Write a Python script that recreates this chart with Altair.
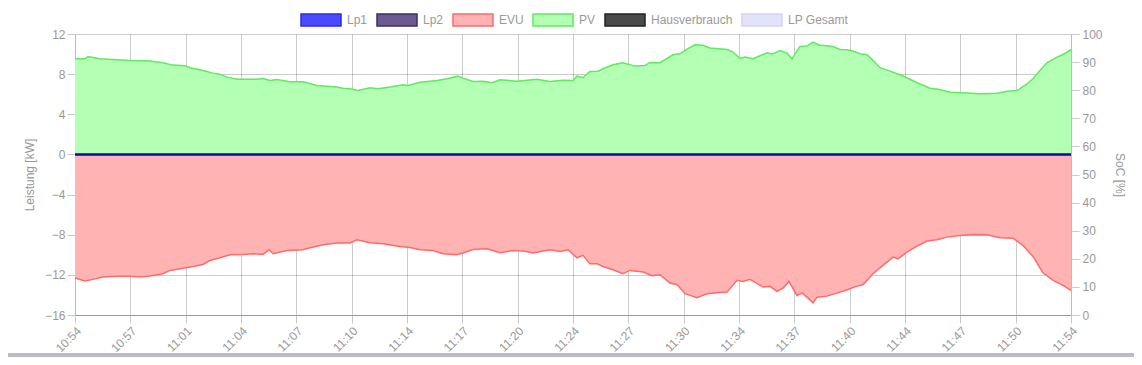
import altair as alt
import pandas as pd

# ---------------- data ----------------
series_names = ["Lp1", "Lp2", "EVU", "PV", "Hausverbrauch", "LP Gesamt"]
legend_fill = ["#4a4aff", "#6b5b92", "#ffb3b3", "#b3ffb3", "#4a4a4a", "#e2e2f8"]
legend_stroke = ["#2a2af0", "#3b2e6e", "#ff6b6b", "#5fea5f", "#222222", "#d4d4ee"]

x_labels = ["10:54", "10:57", "11:01", "11:04", "11:07", "11:10", "11:14", "11:17",
            "11:20", "11:24", "11:27", "11:30", "11:34", "11:37", "11:40", "11:44",
            "11:47", "11:50", "11:54"]

# minutes since 10:54
pv_t = [0.0, 0.6, 0.78, 1.51, 2.29, 3.31, 4.52, 5.3, 5.9, 6.63, 6.93, 7.71, 8.31, 8.73,
        9.16, 9.76, 10.96, 11.33, 11.75, 12.17, 12.95, 13.73, 14.58, 15.78, 16.14, 16.57,
        17.05, 17.77, 18.25, 18.98, 19.76, 20.06, 20.78, 21.81, 22.41, 23.07, 23.37, 23.98,
        24.58, 25.12, 25.6, 26.63, 27.83, 28.61, 29.4, 30.0, 30.24, 30.6, 31.02, 31.51,
        31.81, 32.41, 33.01, 33.73, 34.34, 34.64, 35.24, 36.02, 36.45, 36.87, 37.35, 37.83,
        38.25, 39.28, 39.64, 40.06, 40.36, 40.84, 41.69, 41.99, 42.47, 42.89, 43.19, 43.67,
        44.1, 44.46, 44.88, 45.3, 45.66, 46.08, 46.51, 46.87, 47.29, 47.71, 48.07, 48.49,
        49.1, 49.7, 50.12, 50.72, 51.51, 52.11, 52.71, 53.49, 54.52, 55.54, 56.14, 56.75,
        57.35, 57.71, 58.13, 58.55, 59.16, 59.52, 60.0]
pv_kw = [9.53, 9.53, 9.76, 9.53, 9.46, 9.36, 9.3, 9.13, 8.9, 8.84, 8.64, 8.37, 8.1, 8.0,
         7.7, 7.5, 7.5, 7.57, 7.37, 7.47, 7.24, 7.24, 6.87, 6.71, 6.6, 6.54,
         6.37, 6.64, 6.54, 6.71, 6.94, 6.87, 7.2, 7.37, 7.54, 7.8, 7.6, 7.27,
         7.3, 7.14, 7.44, 7.3, 7.5, 7.27, 7.4, 7.37, 7.8, 7.64, 8.27, 8.3,
         8.54, 8.94, 9.14, 8.8, 8.87, 9.17, 9.14, 9.93, 10.03, 10.5, 10.93, 10.87,
         10.6, 10.46, 10.2, 9.57, 9.7, 9.53, 10.13, 10.0, 10.36, 10.1, 9.53, 10.76,
         10.8, 11.2, 10.87, 10.83, 10.76, 10.46, 10.43, 10.3, 10.03, 9.93, 9.37, 8.64,
         8.3, 7.94, 7.64, 7.14, 6.6, 6.47, 6.2, 6.14, 6.04, 6.1, 6.3, 6.37,
         7.04, 7.54, 8.37, 9.13, 9.7, 9.96, 10.43]

evu_t = [0.0, 0.6, 1.08, 1.69, 2.53, 3.31, 3.92, 4.52, 5.3, 5.72, 6.33, 7.11, 7.71, 8.13,
         8.73, 9.34, 10.12, 10.72, 11.33, 11.69, 11.93, 12.77, 13.73, 14.16, 14.94, 15.78,
         16.57, 16.99, 17.77, 18.55, 19.58, 20.18, 20.78, 21.57, 22.17, 23.01, 23.37, 23.98,
         24.82, 25.6, 26.39, 26.99, 27.59, 28.61, 29.22, 29.7, 30.24, 30.6, 31.02, 31.45,
         31.81, 32.41, 33.01, 33.43, 34.22, 34.76, 35.24, 35.84, 36.27, 36.75, 37.47, 38.07,
         38.67, 39.28, 39.88, 40.24, 40.66, 41.45, 41.87, 42.29, 42.65, 43.01, 43.49, 43.8,
         44.1, 44.46, 44.7, 45.3, 45.9, 46.51, 47.11, 47.47, 48.07, 48.67, 49.28, 49.58,
         50.12, 50.72, 51.33, 51.93, 52.53, 53.31, 54.1, 54.94, 55.72, 56.51, 57.11, 57.71,
         58.31, 58.92, 59.52, 60.0]
evu_kw = [-12.32, -12.62, -12.45, -12.22, -12.15, -12.15, -12.22, -12.12, -11.89, -11.56,
          -11.39, -11.16, -10.96, -10.56, -10.3, -10.0, -9.96, -9.9, -9.96, -9.5, -9.9,
          -9.57, -9.5, -9.3, -9.0, -8.83, -8.83, -8.5, -8.8, -8.9, -9.17, -9.27, -9.5,
          -9.57, -9.9, -10.0, -9.83, -9.47, -9.4, -9.8, -9.57, -9.63, -9.83, -9.5, -9.67,
          -9.5, -10.3, -10.06, -10.9, -10.9, -11.16, -11.49, -11.89, -11.56, -11.72, -12.09,
          -11.99, -12.82, -12.99, -13.88, -14.28, -13.88, -13.78, -13.72, -12.55, -12.65,
          -12.45, -13.22, -13.15, -13.65, -13.32, -12.65, -14.05, -13.82, -14.22, -14.78,
          -14.22, -14.12, -13.82, -13.49, -13.12, -12.99, -11.89, -11.06, -10.23, -10.4,
          -9.73, -9.13, -8.63, -8.5, -8.24, -8.07, -7.97, -8.0, -8.3, -8.34, -9.07, -10.16,
          -11.79, -12.55, -13.05, -13.55]

lp1_t = [0.0, 60.0]
lp1_kw = [0.0, 0.0]

soc_range = [0, 100]

# ---------------- tables ----------------
flow = pd.concat([
    pd.DataFrame({"t": pv_t, "kw": pv_kw, "series": "PV"}),
    pd.DataFrame({"t": evu_t, "kw": evu_kw, "series": "EVU"}),
], ignore_index=True)
lp1 = pd.DataFrame({"t": lp1_t, "kw": lp1_kw})
soc = pd.DataFrame({"soc": soc_range})
bar = pd.DataFrame({"k": [0]})

FONT = "Liberation Sans"
GREY = "#999999"

tick_vals = [round(k * 60 / 18, 6) for k in range(19)]
label_expr = "[" + ",".join("'%s'" % s for s in x_labels) + "][round(datum.value*18/60)]"

x_enc = alt.X("t:Q", scale=alt.Scale(domain=[0, 60], nice=False, zero=False),
              axis=alt.Axis(values=tick_vals, labelExpr=label_expr, labelAngle=-45,
                            labelAlign="right", labelBaseline="top", title=None,
                            grid=True, tickSize=8, labelPadding=2,
                            domainColor="#999999"))
y_scale = alt.Scale(domain=[-16, 12], nice=False, zero=False)
y_axis = alt.Axis(values=list(range(-16, 13, 4)), title="Leistung [kW]", grid=True,
                  tickSize=8, labelPadding=2, titlePadding=8, domainColor="#bbbbbb")

fill_scale = alt.Scale(domain=series_names, range=legend_fill)
stroke_scale = alt.Scale(domain=series_names, range=legend_stroke)

area = alt.Chart(flow).mark_area(stroke=None, interpolate="linear").encode(
    x=x_enc,
    y=alt.Y("kw:Q", scale=y_scale, axis=y_axis, stack=None),
    y2=alt.datum(0),
    fill=alt.Fill("series:N", scale=fill_scale, legend=alt.Legend(title=None)),
    detail="series:N",
)
lines = alt.Chart(flow).mark_line(strokeWidth=1.5, interpolate="linear").encode(
    x="t:Q",
    y="kw:Q",
    stroke=alt.Stroke("series:N", scale=stroke_scale, legend=alt.Legend(title=None)),
    detail="series:N",
)
zero_line = alt.Chart(lp1).mark_line(color="#0a0aa8", strokeWidth=2.5).encode(
    x="t:Q", y="kw:Q")

soc_layer = alt.Chart(soc).mark_point(opacity=0).encode(
    y=alt.Y("soc:Q", scale=alt.Scale(domain=[0, 100], nice=False),
            axis=alt.Axis(orient="right", values=list(range(0, 101, 10)),
                          title="SoC [%]", grid=False, tickSize=8, labelPadding=3,
                          titlePadding=10, domainColor="#bbbbbb"))
)

bottom_bar = alt.Chart(bar).mark_rect(color="#b9bdcb").encode(
    x=alt.value(-70), x2=alt.value(1059), y=alt.value(319), y2=alt.value(323))

main = alt.layer(area, lines, zero_line)
chart = alt.layer(main, soc_layer, bottom_bar).resolve_scale(y="independent").properties(
    width=996, height=281,
    autosize=alt.AutoSizeParams(type="none"),
    padding={"left": 67, "top": 26, "right": 63, "bottom": 42},
).configure_view(stroke=None).configure_axis(
    labelFont=FONT, titleFont=FONT, labelFontSize=12, titleFontSize=12,
    labelColor=GREY, titleColor=GREY, titleFontWeight="normal",
    gridColor="#000000", gridOpacity=0.2, tickColor="#c8c8c8", zindex=1,
).configure_legend(
    orient="none", legendX=225, legendY=-35, direction="horizontal",
    symbolType="M-1,-0.3L1,-0.3L1,0.3L-1,0.3Z", symbolSize=1600, symbolStrokeWidth=1.5,
    labelFont=FONT, labelFontSize=12, labelColor=GREY, labelOffset=5,
    columnPadding=6, padding=0, symbolOpacity=1,
)

chart.save("out.html", embed_options={"renderer": "svg", "actions": False})
